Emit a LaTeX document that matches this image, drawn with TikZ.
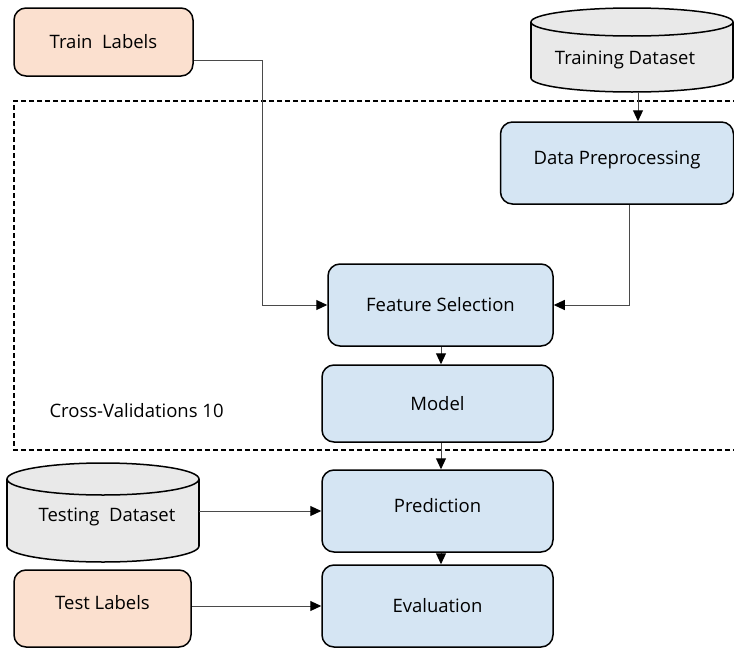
\documentclass[tikz,border=0pt]{standalone}
\usepackage{fontspec}
\setmainfont{Open Sans}
\usetikzlibrary{arrows.meta,calc}

\definecolor{stepblue}{HTML}{D5E5F3}
\definecolor{labelpeach}{HTML}{FBE0CF}
\definecolor{dbgrey}{HTML}{E9E9E9}
\definecolor{linkgrey}{HTML}{4A4A4A}

\tikzset{
  stepbox/.style={draw=black, line width=1.5pt, rounded corners=12pt,
    fill=stepblue, font=\fontsize{18.5}{22}\selectfont},
  labelbox/.style={stepbox, fill=labelpeach},
  hull/.style={inner sep=0pt, outer sep=0pt},
  link/.style={draw=linkgrey, line width=1pt,
    -{Triangle[length=11pt,width=10pt,black]}},
  txt/.style={font=\fontsize{18.5}{22}\selectfont},
}

% database drum: centre x, top y, bottom y, x radius, y radius
\newcommand{\drum}[5]{%
  \fill[dbgrey] (#1-#4,#2+#5) rectangle (#1+#4,#3-#5);
  \fill[dbgrey] (#1,#3-#5) ellipse [x radius=#4, y radius=#5];
  \begin{scope}
    \clip (#1-#4-3,#3-#5) rectangle (#1+#4+3,#3+3);
    \draw[line width=1.5pt] (#1,#3-#5) ellipse [x radius=#4, y radius=#5];
  \end{scope}
  \draw[line width=1.5pt] (#1-#4,#2+#5) -- (#1-#4,#3-#5)
                           (#1+#4,#2+#5) -- (#1+#4,#3-#5);
  \draw[line width=1.5pt, fill=dbgrey] (#1,#2+#5) ellipse [x radius=#4, y radius=#5];
}

\begin{document}
\begin{tikzpicture}[x=1pt, y=-1pt]
  \useasboundingbox (0,0) rectangle (734,648);

  % cross-validation frame
  \draw[line width=1.5pt, dash pattern=on 5pt off 3pt] (738,101) -- (14,101) -- (14,450) -- (738,450);
  \node[txt, anchor=west] (cv) at (46,411) {Cross-Validations 10};

  % data sources
  \drum{632}{8}{92}{101}{14}
  \node[hull, minimum width=202pt, minimum height=84pt] (trainds) at (632,50) {};
  \node[txt] at (625,60) {Training Dataset};

  \drum{103}{463}{562}{96}{16}
  \node[hull, minimum width=192pt, minimum height=99pt] (testds) at (103,512.5) {};
  \node[txt] at (107,517) {Testing~ Dataset};

  \node[labelbox, minimum width=179pt, minimum height=68pt] (trainlab) at (103.5,42) {Train~ Labels};
  \node[labelbox, minimum width=177pt, minimum height=77pt] (testlab) at (102.5,608.5) {\raisebox{12pt}{Test Labels}};

  % processing steps
  \node[stepbox, minimum width=233pt, minimum height=82pt] (prep) at (617,163) {\raisebox{11pt}{Data Preprocessing}};
  \node[stepbox, minimum width=225pt, minimum height=82pt] (feat) at (440.5,305) {Feature Selection};
  \node[stepbox, minimum width=231pt, minimum height=77pt] (model) at (437.5,403.5) {Model};
  \node[stepbox, minimum width=231pt, minimum height=82pt] (pred) at (437.5,511) {\raisebox{12pt}{Prediction}};
  \node[stepbox, minimum width=231pt, minimum height=82pt] (eval) at (437.5,606) {Evaluation};

  % connectors
  \coordinate (spine) at (441,0);
  \coordinate (tdsout) at ($(trainds.south)+(6,0)$);
  \coordinate (tlout) at ($(trainlab.east)+(0,18)$);
  \coordinate (ppout) at ($(prep.south)+(12,0)$);
  \draw[link] (tdsout) -- (tdsout |- prep.north);
  \draw[link] (tlout) -- ++(69,0) |- (feat.west);
  \draw[link] (ppout) |- (feat.east);
  \draw[link] (spine |- feat.south) -- (spine |- model.north);
  \draw[link] (spine |- model.south) -- (spine |- pred.north);
  \draw[link] (spine |- pred.south) -- (spine |- eval.north);
  \draw[link] (testds.east |- pred.west) -- (pred.west);
  \draw[link] (testlab.east |- eval.west) -- (eval.west);
\end{tikzpicture}
\end{document}
